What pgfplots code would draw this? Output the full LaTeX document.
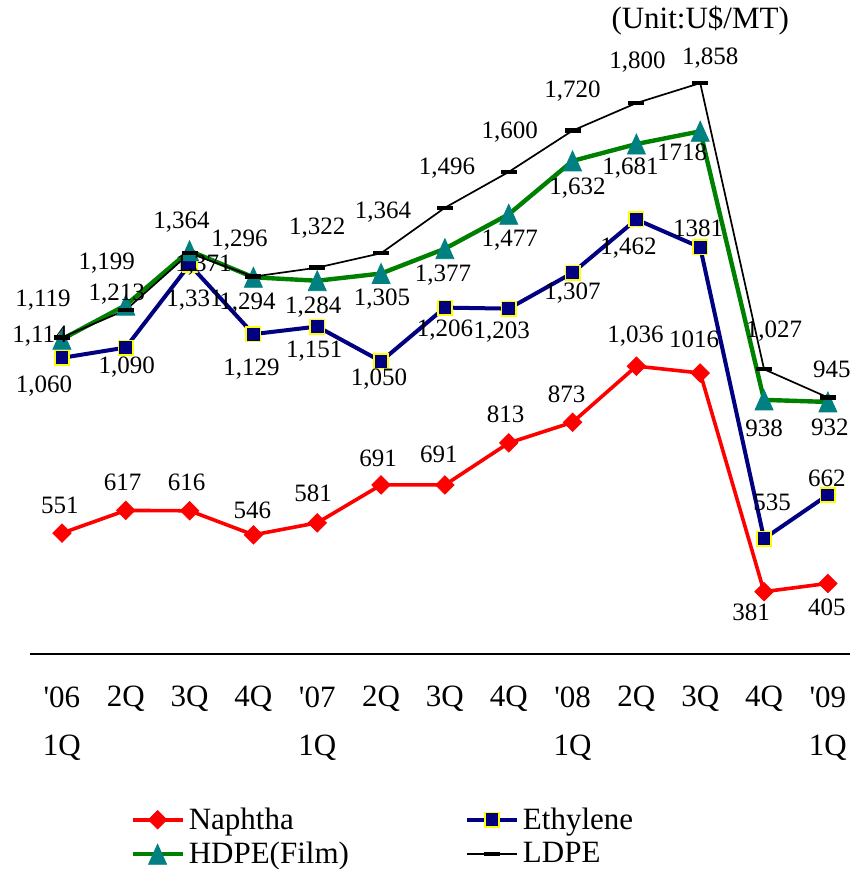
\documentclass[border=0pt]{standalone}
\usepackage{fontspec}
\setmainfont{Liberation Serif}
\usepackage{pgfplots}
\pgfplotsset{compat=1.18}
\usepackage{pgfplotstable}

\definecolor{naph}{RGB}{255,0,0}
\definecolor{ethy}{RGB}{0,0,128}
\definecolor{ethyb}{RGB}{255,255,0}
\definecolor{hdpe}{RGB}{0,128,0}
\definecolor{hdpem}{RGB}{0,128,128}

\pgfdeclareplotmark{dia}{%
  \pgfpathmoveto{\pgfqpoint{0pt}{\pgfplotmarksize}}%
  \pgfpathlineto{\pgfqpoint{\pgfplotmarksize}{0pt}}%
  \pgfpathlineto{\pgfqpoint{0pt}{-\pgfplotmarksize}}%
  \pgfpathlineto{\pgfqpoint{-\pgfplotmarksize}{0pt}}%
  \pgfpathclose\pgfusepathqfillstroke}
\pgfdeclareplotmark{tri}{%
  \pgfpathmoveto{\pgfqpoint{0pt}{\pgfplotmarksize}}%
  \pgfpathlineto{\pgfqpoint{0.9\pgfplotmarksize}{-\pgfplotmarksize}}%
  \pgfpathlineto{\pgfqpoint{-0.9\pgfplotmarksize}{-\pgfplotmarksize}}%
  \pgfpathclose\pgfusepathqfillstroke}

\pgfplotstableread{
x y lbl dx dy
0 551 551 -1 14
1 617 617 -1.5 14
2 616 616 -1.5 14
3 546 546 -0.5 12.5
4 581 581 -2 15
5 691 691 -1.5 13.5
6 691 691 -3 15.5
7 813 813 -1.5 14.5
8 873 873 -3 14
9 1036 1,036 -0.5 15
10 1016 1016 -3 17
11 381 381 -6.5 -10.5
12 405 405 -0.5 -12
}\naphtha

\pgfplotstableread{
x y lbl dx dy
0 1060 1,060 -9 -14
1 1090 1,090 0.5 -10
2 1331 1,331 2.5 -18
3 1129 1,129 -1 -17.5
4 1151 1,151 -1.5 -12.5
5 1050 1,050 -1 -9
6 1206 1,206 0 -11.5
7 1203 1,203 -3.5 -11.5
8 1307 1,307 0 -10
9 1462 1,462 -4 -14.5
10 1381 1381 -1 9.5
11 535 535 4 18
12 662 662 -0.5 8.5
}\ethylene

\pgfplotstableread{
x y lbl dx dy
0 1114 1,114 -11 1.5
1 1213 1,213 -4.5 5.5
2 1371 1,371 7 -7
3 1294 1,294 -3 -13
4 1284 1,284 -2 -13
5 1305 1,305 0.5 -13
6 1377 1,377 -1 -13
7 1477 1,477 0.5 -13
8 1632 1,632 2.5 -13.5
9 1681 1,681 -3 -12
10 1718 1718 -9 -10.5
11 938 938 0 -14
12 932 932 1 -12.5
}\hdpe

\pgfplotstableread{
x y lbl dx dy
0 1119 1,119 -9.5 18.5
1 1199 1,199 -9.5 23.5
2 1364 1,364 -4 15.5
3 1296 1,296 -7 18
4 1322 1,322 0 20
5 1364 1,364 1 20.5
6 1496 1,496 1 20
7 1600 1,600 0.5 20
8 1720 1,720 0 20
9 1800 1,800 0.5 20.5
10 1858 1,858 5 12.5
11 1027 1,027 5 19
12 945 945 2 14
}\ldpe

\pgfplotsset{
  lbls/.style={
    nodes near coords,
    point meta=explicit symbolic,
    visualization depends on={\thisrow{dx}\as\ldx},
    visualization depends on={\thisrow{dy}\as\ldy},
    every node near coord/.append style={anchor=center, inner sep=0pt,
      xshift=\ldx pt, yshift=\ldy pt, text=black,
      font=\fontsize{12.5}{14}\selectfont},
  },
  naphS/.style={naph, line width=1.8pt, mark=dia, mark size=4.6pt,
    mark options={solid, fill=naph, draw=naph, line width=0.4pt}},
  ethyS/.style={ethy, line width=2pt, mark=square*, mark size=3.6pt,
    mark options={solid, fill=ethy, draw=ethyb, line width=0.8pt}},
  hdpeS/.style={hdpe, line width=2.2pt, mark=tri, mark size=5pt,
    mark options={solid, fill=hdpem, draw=hdpem, line width=0.4pt}},
  ldpeS/.style={black, line width=0.85pt, mark=-, mark size=4pt,
    mark options={solid, line width=2.2pt}},
}

\begin{document}
\begin{tikzpicture}
\begin{axis}[
  scale only axis,
  width=414.9pt, height=309.9pt,
  xmin=-0.5, xmax=12.5,
  ymin=200, ymax=2000,
  clip=false,
  axis x line*=bottom,
  axis y line=none,
  x axis line style={-, line width=1pt},
  major tick length=0pt,
  xtick={0,...,12},
  xticklabels={{\textquotesingle06\\1Q},2Q,3Q,4Q,{\textquotesingle07\\1Q},2Q,3Q,4Q,{\textquotesingle08\\1Q},2Q,3Q,4Q,{\textquotesingle09\\1Q}},
  xticklabel style={align=center, anchor=north, inner sep=0pt, yshift=-16pt,
    font=\fontsize{15.5}{24}\selectfont},
  ytick=\empty,
  legend columns=2,
  legend cell align=left,
  legend style={at={(0.1205,-0.2953)}, anchor=west, draw=none, fill=none,
    inner sep=0pt, font=\fontsize{15.5}{18}\selectfont,
    row sep=1pt,
    /tikz/every even column/.append style={column sep=56pt}},
  legend image code/.code={%
    \draw[mark repeat=2,mark phase=2,#1] plot coordinates {(0pt,0pt) (12.5pt,0pt) (25pt,0pt)};},
]
\addlegendimage{naphS}\addlegendentry{Naphtha}
\addlegendimage{ethyS}\addlegendentry{Ethylene}
\addlegendimage{hdpeS}\addlegendentry{HDPE(Film)}
\addlegendimage{ldpeS}\addlegendentry{LDPE}
\addplot[naphS, lbls, forget plot] table[x=x, y=y, meta=lbl] {\naphtha};
\addplot[ethyS, lbls, forget plot] table[x=x, y=y, meta=lbl] {\ethylene};
\addplot[hdpeS, lbls, forget plot] table[x=x, y=y, meta=lbl] {\hdpe};
\addplot[ldpeS, lbls, forget plot] table[x=x, y=y, meta=lbl] {\ldpe};
\node[font=\fontsize{15.5}{18}\selectfont, inner sep=0pt] at (axis cs:10,2041) {(Unit:U\$/MT)};
\coordinate (sw) at (rel axis cs:0,0);
\end{axis}
\pgfresetboundingbox
\path (sw) ++(-15pt,-107.5pt) rectangle ++(425pt,434.5pt);
\end{tikzpicture}
\end{document}
